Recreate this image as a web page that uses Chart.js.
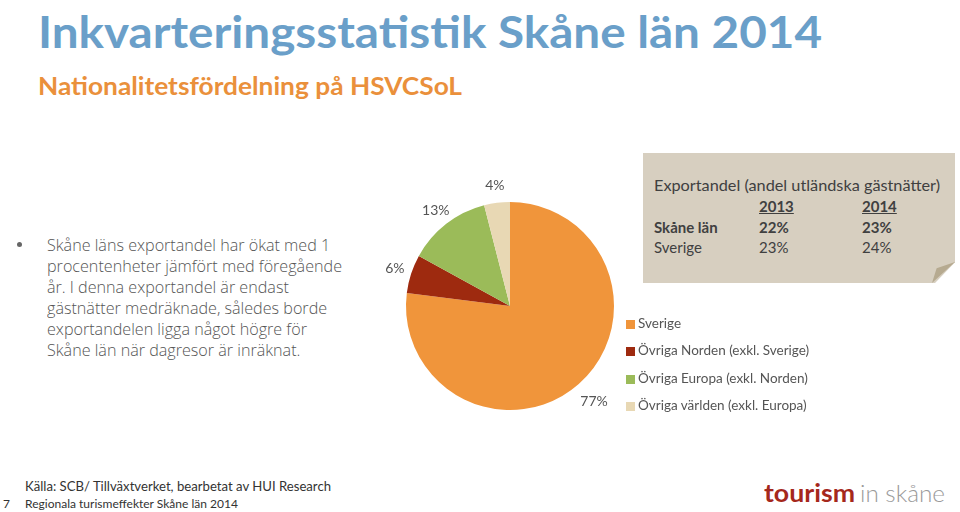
<!DOCTYPE html>
<html>
<head>
<meta charset="utf-8">
<script src="https://cdn.jsdelivr.net/npm/chart.js@4"></script>
<style>
  body { margin: 0; width: 960px; height: 512px; background: #fff; position: relative; overflow: hidden; font-family: 'Open Sans', sans-serif; }
  .abs { position: absolute; white-space: nowrap; transform-origin: 0 0; }
  #title { left: 38px; top: 1px; font: bold 43px Lato, sans-serif; line-height: 61px; color: #6a9fc9; }
  #subtitle { left: 38px; top: 70px; font: bold 25px Lato, sans-serif; color: #ea903b; }
  #bullet { left: 47px; top: 234px; font: 300 17px 'Open Sans', sans-serif; color: #555; line-height: 21px; }
  #dot { left: 17px; top: 242px; width: 5px; height: 5px; border-radius: 50%; background: #666; }
  #note { left: 643px; top: 153px; width: 312px; height: 130px; background: #d7cfc0;
          clip-path: polygon(0 0, 100% 0, 100% 84%, 93.6% 100%, 0 100%); }
  #fold { left: 932px; top: 262px; width: 23px; height: 21px; background: #b6aa90;
          clip-path: polygon(100% 0, 0 100%, 20% 30%); }
  .tt { font: 15px Lato, sans-serif; color: #404040; }
  .b { font-weight: bold; }
  .u { text-decoration: underline; }
  #legend .item { position: absolute; left: 626px; font: 13.5px Lato, sans-serif; color: #555; white-space: nowrap; }
  #legend .sw { display: inline-block; width: 9px; height: 9px; margin-right: 3px; vertical-align: -1px; }
  #chartWrap { position: absolute; left: 360px; top: 156px; width: 300px; height: 300px; }
  .foot { font: 14px Lato, sans-serif; color: #333; }
</style>
</head>
<body>
<div class="abs" id="title" data-w="784">Inkvarteringsstatistik Skåne län 2014</div>
<div class="abs" id="subtitle" data-w="424">Nationalitetsfördelning på HSVCSoL</div>
<div class="abs" id="dot"></div>
<div class="abs" id="bullet" data-w="295">Skåne läns exportandel har ökat med 1<br>procentenheter jämfört med föregående<br>år. I denna exportandel är endast<br>gästnätter medräknade, således borde<br>exportandelen ligga något högre för<br>Skåne län när dagresor är inräknat.</div>

<div class="abs" id="note"></div>
<div class="abs" id="fold"></div>
<div id="table"></div>

<div id="chartWrap"><canvas id="pie" width="300" height="300"></canvas></div>
<div id="legend"></div>

<div class="abs foot" style="left:25px; top:477px;" data-w="306">Källa: SCB/ Tillväxtverket, bearbetat av HUI Research</div>
<div class="abs foot" style="left:3px; top:496px; font-size:12px;">7</div>
<div class="abs foot" style="left:25px; top:496px; font-size:12px;" data-w="213">Regionala turismeffekter Skåne län 2014</div>
<div class="abs" style="left:764px; top:478px; font: bold 24px Lato, sans-serif; color:#a5281c;" data-w="91">tourism</div>
<div class="abs" style="left:860px; top:478px; font: 300 24px Lato, sans-serif; color:#9a9a9a;" data-w="85">in skåne</div>

<script>
// pie data
const categories = ['Sverige', 'Övriga Norden (exkl. Sverige)', 'Övriga Europa (exkl. Norden)', 'Övriga världen (exkl. Europa)'];
const shares = [77, 6, 13, 4];
const colors = ['#f0953b', '#9e2a0f', '#9bbb59', '#e8d8b4'];

// export share table
const tableTitle = 'Exportandel (andel utländska gästnätter)';
const years = ['2013', '2014'];
const regions = ['Skåne län', 'Sverige'];
const exportShare = [['22%', '23%'], ['23%', '24%']];

const tbl = document.getElementById('table');
const addText = (txt, x, y, cls, w) => {
  const d = document.createElement('div');
  d.className = 'abs tt ' + (cls || '');
  d.style.left = x + 'px';
  d.style.top = y + 'px';
  d.textContent = txt;
  if (w) d.dataset.w = w;
  tbl.appendChild(d);
};
addText(tableTitle, 654, 176, '', 286);
const colX = [759, 862];
years.forEach((y, i) => addText(y, colX[i], 197, 'b u'));
regions.forEach((r, j) => {
  const cls = j === 0 ? 'b' : '';
  addText(r, 654, 218 + j * 20, cls);
  exportShare[j].forEach((v, i) => addText(v, colX[i], 218 + j * 20, cls));
});

const legendElm = document.getElementById('legend');
categories.forEach((c, i) => {
  const d = document.createElement('div');
  d.className = 'item';
  d.style.top = (315 + i * 27.3) + 'px';
  d.innerHTML = '<span class="sw" style="background:' + colors[i] + '"></span>' + c;
  legendElm.appendChild(d);
});

const outsideLabels = {
  id: 'outsideLabels',
  afterDatasetsDraw(chart) {
    const { ctx } = chart;
    const meta = chart.getDatasetMeta(0);
    ctx.save();
    ctx.font = '14px Lato, sans-serif';
    ctx.fillStyle = '#555';
    ctx.textAlign = 'center';
    ctx.textBaseline = 'middle';
    meta.data.forEach((arc, i) => {
      const mid = (arc.startAngle + arc.endAngle) / 2;
      const r = arc.outerRadius + (shares[i] > 50 ? 23 : 17);
      ctx.fillText(shares[i] + '%', arc.x + Math.cos(mid) * r, arc.y + Math.sin(mid) * r);
    });
    ctx.restore();
  },
};

new Chart(document.getElementById('pie'), {
  type: 'pie',
  data: {
    labels: categories,
    datasets: [{ data: shares, backgroundColor: colors, borderWidth: 0 }],
  },
  options: {
    responsive: false,
    animation: false,
    radius: 104,
    plugins: { legend: { display: false }, tooltip: { enabled: false } },
  },
  plugins: [outsideLabels],
});

// squeeze texts to the widths seen in the reference
document.querySelectorAll('[data-w]').forEach((el) => {
  const w = el.getBoundingClientRect().width;
  el.style.transform = 'scaleX(' + (el.dataset.w / w) + ')';
});
</script>
</body>
</html>
